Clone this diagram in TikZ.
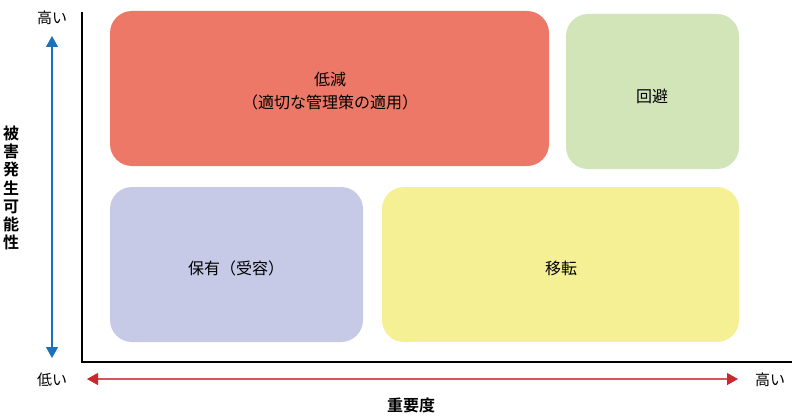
\documentclass[tikz,border=0pt]{standalone}
\usepackage{fontspec}
\setmainfont{Noto Sans CJK JP}
\newfontfamily\jpbold{Noto Sans CJK JP Bold}
\usetikzlibrary{arrows.meta}
\definecolor{redbox}{HTML}{ED7867}
\definecolor{greenbox}{HTML}{D1E5B9}
\definecolor{purplebox}{HTML}{C7CAE7}
\definecolor{yellowbox}{HTML}{F4F093}
\definecolor{axisblue}{HTML}{1B72BA}
\definecolor{axisred}{HTML}{D6545A}
\definecolor{axisredhead}{HTML}{C9282E}
\tikzset{
  quad/.style={fill=#1, draw=none, rounded corners=22pt},
  lbl/.style={font=\fontsize{16pt}{23pt}\selectfont, align=center, inner sep=0pt},
  axlbl/.style={font=\fontsize{15pt}{18pt}\selectfont, inner sep=0pt},
  ttl/.style={font=\fontsize{16pt}{18.2pt}\jpbold\selectfont, inner sep=0pt, align=center},
}
\begin{document}
\begin{tikzpicture}[x=1pt,y=-1pt]
\useasboundingbox (0,0) rectangle (800,420);
% boxes
\fill[quad=redbox] (110,11) rectangle (549,166);
\fill[quad=greenbox] (566,14) rectangle (739,169);
\fill[quad=purplebox] (110,187) rectangle (363,342);
\fill[quad=yellowbox] (382,187) rectangle (739,342);
\node[lbl] (reduce) at (330,91) {低減\\（適切な管理策の適用）};
\node[lbl] (avoid) at (652,96) {回避};
\node[lbl] (retain) at (236,268) {保有（受容）};
\node[lbl] (transfer) at (561,268) {移転};
% axes frame
\coordinate (otop) at (82,12);
\coordinate (oorig) at (82,362);
\coordinate (oright) at (792,362);
\draw[line width=1.3pt, black] (otop) -- (oorig) -- (oright);
% vertical arrow
\coordinate (vtop) at (52,36);
\coordinate (vbot) at (52,358);
\draw[axisblue, line width=1.3pt, {Triangle[length=11pt,width=12pt]}-{Triangle[length=11pt,width=12pt]}] (vtop) -- (vbot);
\node[axlbl] (vhigh) at (52,18) {高い};
\node[axlbl] (vlow) at (52,380) {低い};
% horizontal arrow
\coordinate (hleft) at (87,379);
\coordinate (hright) at (738,379);
\draw[axisred, line width=1.3pt, {Triangle[length=11pt,width=12pt,color=axisredhead]}-{Triangle[length=11pt,width=12pt,color=axisredhead]}] (hleft) -- (hright);
\node[axlbl] (hhigh) at (770,380) {高い};
% titles
\node[ttl] (ytitle) at (11,188) {被\\害\\発\\生\\可\\能\\性};
\node[ttl] (xtitle) at (411,405) {重要度};
\end{tikzpicture}
\end{document}
